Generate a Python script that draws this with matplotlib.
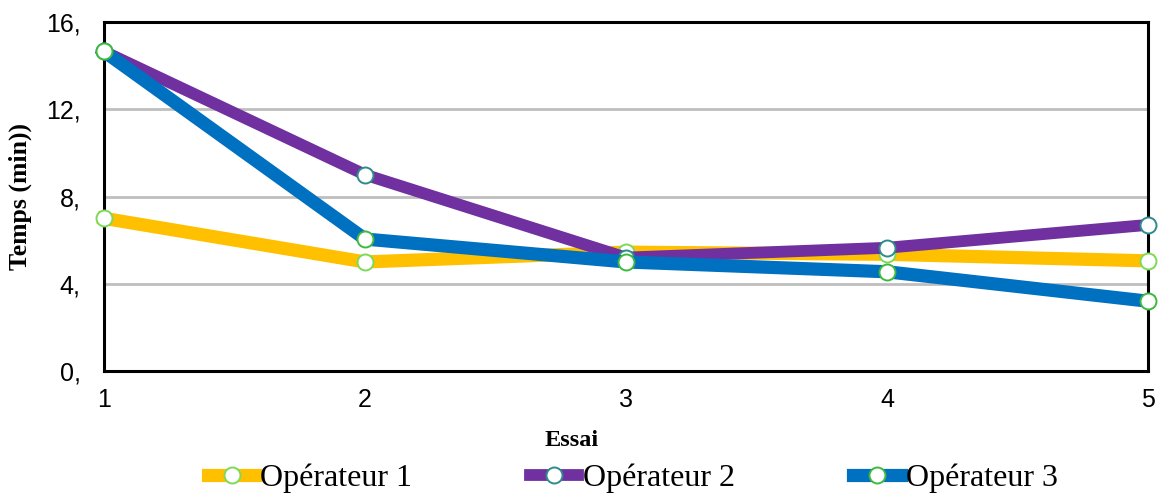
import matplotlib.pyplot as plt

# essais et temps relevés (min)
essais = [1, 2, 3, 4, 5]
op1 = [7.0, 5.0, 5.45, 5.35, 5.05]
op2 = [14.65, 9.0, 5.2, 5.65, 6.7]
op3 = [14.65, 6.05, 5.0, 4.55, 3.2]
yticks = [0, 4, 8, 12, 16]
ytick_labels = ["0,", "4,", "8,", "12,", "16,"]
noms = ["Opérateur 1", "Opérateur 2", "Opérateur 3"]

fig = plt.figure(figsize=(11.61, 4.97), dpi=100)
ax = fig.add_axes([0.0896, 0.2535, 0.8992, 0.7022])

# style des séries: couleur ligne, bord du marqueur, épaisseur
styles = [("#FFC000", "#7ED957", 9.5),
          ("#7030A0", "#2E8B8B", 8.5),
          ("#0070C0", "#3DBA3D", 9.5)]

for vals, nom, (col, edge, lw) in zip([op1, op2, op3], noms, styles):
    ax.plot(essais, vals, color=col, linewidth=lw, solid_joinstyle="miter",
            marker="o", markersize=11.5, markerfacecolor="white",
            markeredgecolor=edge, markeredgewidth=1.4, label=nom, clip_on=False, zorder=3)

ax.set_xlim(1, 5)
ax.set_ylim(0, 16)
ax.set_xticks(essais)
ax.set_yticks(yticks)
ax.set_yticklabels(ytick_labels)
ax.tick_params(length=0, labelsize=18, pad=17)
for lab in ax.get_xticklabels() + ax.get_yticklabels():
    lab.set_fontfamily("Liberation Sans")
ax.tick_params(axis="x", pad=12)

ax.yaxis.grid(True, color="#BFBFBF", linewidth=2)
ax.set_axisbelow(True)
for sp in ax.spines.values():
    sp.set_linewidth(2.2)
    sp.set_color("black")

fig.text(572 / 1161, 1 - 440 / 497, "Essai", ha="center", va="center",
         fontsize=17.5, fontweight="bold", family="Liberation Serif")
fig.text(20 / 1161, 0.605, "Temps (min))", ha="center", va="center", rotation=90,
         fontsize=18.5, fontweight="bold", family="Liberation Serif")

leg = fig.legend(loc="center", bbox_to_anchor=(0.545, 0.038), ncol=3, frameon=False,
                 prop={"family": "Liberation Serif", "size": 23},
                 handlelength=1.5, handletextpad=0.15, columnspacing=3.7)

fig.savefig("out.png", dpi=100)
